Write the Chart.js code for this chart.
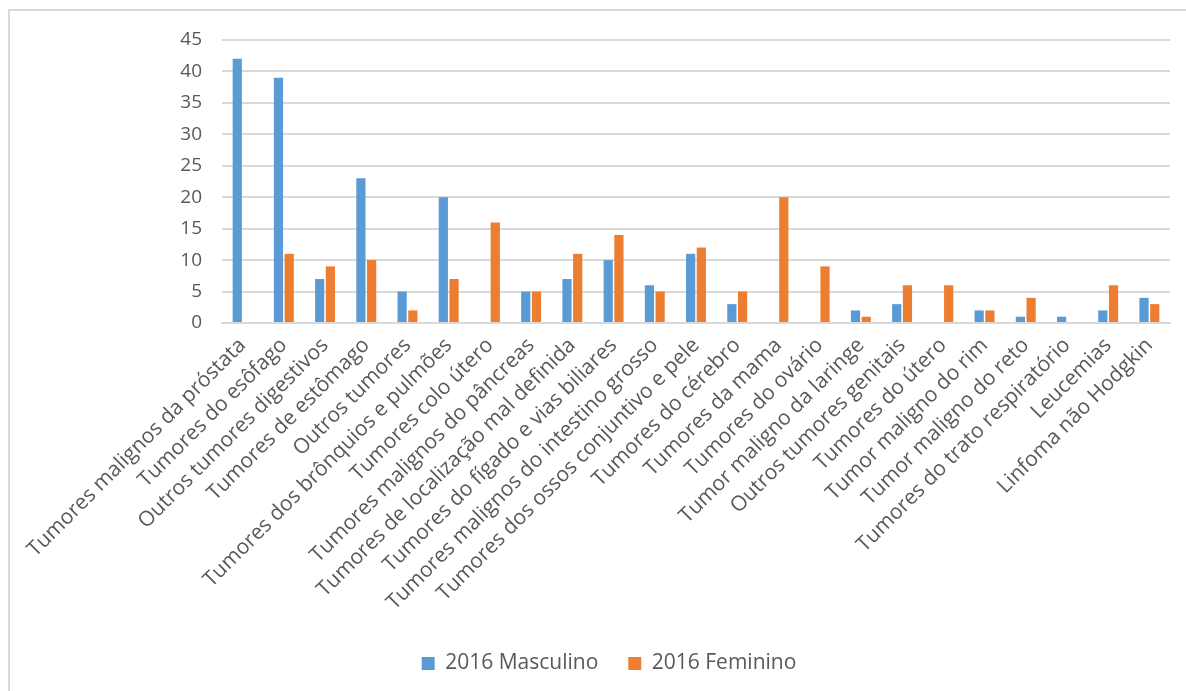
<!DOCTYPE html>
<html>
<head>
<meta charset="utf-8">
<script src="https://cdn.jsdelivr.net/npm/chart.js@4"></script>
<style>
    html, body { margin: 0; padding: 0; background: #fff; }
    #wrap { position: relative; width: 1186px; height: 691px; overflow: hidden; }
    #frame { position: absolute; left: 8px; top: 9px; width: 1250px; height: 700px;
             border-left: 2px solid #d9d9d9; border-top: 2px solid #d9d9d9; }
    canvas { position: absolute; left: 0; top: 0; }
</style>
</head>
<body>
<div id="wrap">
    <div id="frame"></div>
    <canvas id="chart" width="1218" height="691"></canvas>
</div>
<script>
// Data
const categories = [
    'Tumores malignos da próstata',
    'Tumores do esôfago',
    'Outros tumores digestivos',
    'Tumores de estômago',
    'Outros tumores',
    'Tumores dos brônquios e pulmões',
    'Tumores colo útero',
    'Tumores malignos do pâncreas',
    'Tumores de localização mal definida',
    'Tumores do fígado e vias biliares',
    'Tumores malignos do intestino grosso',
    'Tumores dos ossos conjuntivo e pele',
    'Tumores do cérebro',
    'Tumores da mama',
    'Tumores do ovário',
    'Tumor maligno da laringe',
    'Outros tumores genitais',
    'Tumores do útero',
    'Tumor maligno do rim',
    'Tumor maligno do reto',
    'Tumores do trato respiratório',
    'Leucemias',
    'Linfoma não Hodgkin'
];
const masculino = [42, 39, 7, 23, 5, 20, null, 5, 7, 10, 6, 11, 3, null, null, 2, 3, null, 2, 1, 1, 2, 4];
const feminino  = [null, 11, 9, 10, 2, 7, 16, 5, 11, 14, 5, 12, 5, 20, 9, 1, 6, 6, 2, 4, null, 6, 3];
const seriesNames = ['2016 Masculino', '2016 Feminino'];

const textColor = '#595959';
const gridColor = '#d9d9d9';
const fontFamily = '"Open Sans", sans-serif';

const ctx = document.getElementById('chart').getContext('2d');

const chart = new Chart(ctx, {
    type: 'bar',
    data: {
        labels: categories,
        datasets: [
            {
                label: seriesNames[0],
                data: masculino,
                backgroundColor: '#5b9bd5',
                barPercentage: 0.86,
                categoryPercentage: 0.52
            },
            {
                label: seriesNames[1],
                data: feminino,
                backgroundColor: '#ed7d31',
                barPercentage: 0.86,
                categoryPercentage: 0.52
            }
        ]
    },
    options: {
        responsive: false,
        animation: false,
        layout: {
            padding: { top: 40, right: 48, bottom: 7, left: 48 }
        },
        plugins: {
            legend: {
                position: 'bottom',
                labels: {
                    color: textColor,
                    font: { family: fontFamily, size: 21 },
                    boxWidth: 13,
                    boxHeight: 13,
                    padding: 30
                }
            },
            tooltip: { enabled: false }
        },
        scales: {
            x: {
                grid: { display: false },
                border: { color: gridColor, width: 2 },
                ticks: {
                    color: textColor,
                    font: { family: fontFamily, size: 21 },
                    maxRotation: 45,
                    minRotation: 45,
                    autoSkip: false,
                    padding: 2
                },
                afterFit: function (scale) {
                    scale.height = 300;
                }
            },
            y: {
                min: 0,
                max: 45,
                ticks: {
                    stepSize: 5,
                    color: textColor,
                    font: { family: fontFamily, size: 19 },
                    padding: 20
                },
                grid: {
                    color: gridColor,
                    lineWidth: 2,
                    drawTicks: false
                },
                border: { display: false },
                afterFit: function (scale) {
                    scale.width = 174;
                }
            }
        }
    }
});
</script>
</body>
</html>
